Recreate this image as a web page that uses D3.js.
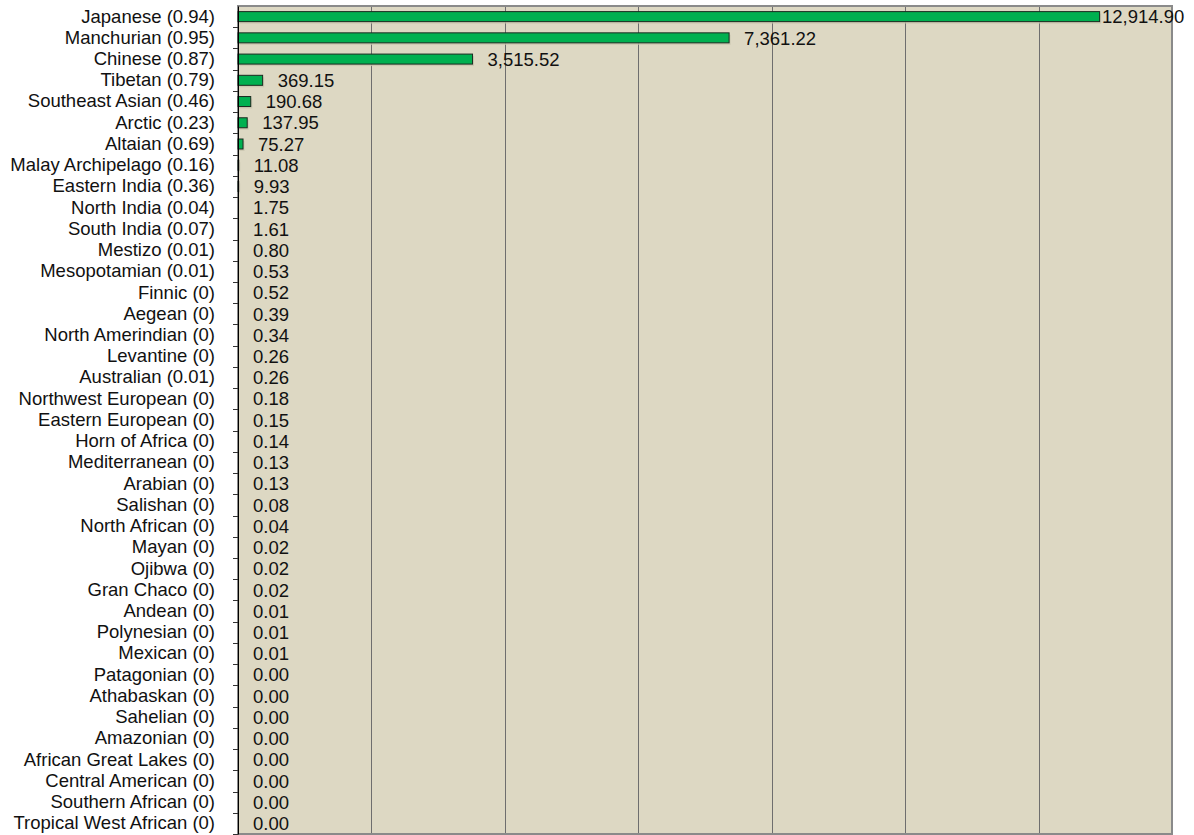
<!DOCTYPE html>
<html>
<head>
<meta charset="utf-8">
<script src="https://cdn.jsdelivr.net/npm/d3@7"></script>
<style>
  body { margin: 0; background: #fff; }
  text { font-family: "Liberation Sans", Arial, sans-serif; }
</style>
</head>
<body>
<div id="myChart"></div>
<script>
// categories (top to bottom) and their values
var categories = ["Japanese (0.94)", "Manchurian (0.95)", "Chinese (0.87)", "Tibetan (0.79)",
  "Southeast Asian (0.46)", "Arctic (0.23)", "Altaian (0.69)", "Malay Archipelago (0.16)",
  "Eastern India (0.36)", "North India (0.04)", "South India (0.07)", "Mestizo (0.01)",
  "Mesopotamian (0.01)", "Finnic (0)", "Aegean (0)", "North Amerindian (0)", "Levantine (0)",
  "Australian (0.01)", "Northwest European (0)", "Eastern European (0)", "Horn of Africa (0)",
  "Mediterranean (0)", "Arabian (0)", "Salishan (0)", "North African (0)", "Mayan (0)",
  "Ojibwa (0)", "Gran Chaco (0)", "Andean (0)", "Polynesian (0)", "Mexican (0)",
  "Patagonian (0)", "Athabaskan (0)", "Sahelian (0)", "Amazonian (0)", "African Great Lakes (0)",
  "Central American (0)", "Southern African (0)", "Tropical West African (0)"];
var values = [12914.90, 7361.22, 3515.52, 369.15, 190.68, 137.95, 75.27, 11.08, 9.93, 1.75,
  1.61, 0.80, 0.53, 0.52, 0.39, 0.34, 0.26, 0.26, 0.18, 0.15, 0.14, 0.13, 0.13, 0.08, 0.04,
  0.02, 0.02, 0.02, 0.01, 0.01, 0.01, 0.00, 0.00, 0.00, 0.00, 0.00, 0.00, 0.00, 0.00];
var xTicks = [0, 2000, 4000, 6000, 8000, 10000, 12000, 14000];

var data = categories.map(function (c, i) { return { name: c, value: values[i] }; });

var margin = { top: 6, right: 22, bottom: 1, left: 238 },
    width = 1194 - margin.left - margin.right,
    height = 835 - margin.top - margin.bottom;

var x = d3.scaleLinear().domain([0, 14000]).range([0, width]);
var y = d3.scaleBand().domain(categories).range([0, height]);

var svg = d3.select("#myChart")
    .append("svg")
    .attr("width", 1194)
    .attr("height", 835)
    .append("g")
    .attr("transform", "translate(" + margin.left + "," + margin.top + ")");

// plot background
svg.append("rect")
    .attr("width", width)
    .attr("height", height)
    .attr("fill", "#ddd8c3");

// vertical gridlines
svg.selectAll(".grid")
    .data(xTicks.slice(1, -1))
    .enter().append("line")
    .attr("x1", function (d) { return Math.round(x(d)) + 0.5; })
    .attr("x2", function (d) { return Math.round(x(d)) + 0.5; })
    .attr("y1", 0)
    .attr("y2", height)
    .attr("stroke", "#6e6e6e")
    .attr("stroke-width", 1);

// plot border
svg.append("rect")
    .attr("width", width)
    .attr("height", height)
    .attr("fill", "none")
    .attr("stroke", "#8a8a8a")
    .attr("stroke-width", 2);

var barH = 10;

// soft shadow under bars
svg.selectAll(".shadow")
    .data(data)
    .enter().append("rect")
    .attr("x", 1.5)
    .attr("y", function (d) { return y(d.name) + (y.bandwidth() - barH) / 2 + 2; })
    .attr("width", function (d) { return x(d.value); })
    .attr("height", barH)
    .attr("fill", "#c9c4ae")
    .attr("opacity", function (d) { return x(d.value) > 0.5 ? 0.8 : 0; });

// bars
svg.selectAll(".bar")
    .data(data)
    .enter().append("rect")
    .attr("x", 0)
    .attr("y", function (d) { return y(d.name) + (y.bandwidth() - barH) / 2; })
    .attr("width", function (d) { return x(d.value); })
    .attr("height", barH)
    .attr("fill", "#00b050")
    .attr("stroke", "#1a2a20")
    .attr("stroke-width", 1)
    .attr("stroke-opacity", function (d) { return x(d.value) > 0.5 ? 1 : 0; });

// value labels
svg.selectAll(".val")
    .data(data)
    .enter().append("text")
    .attr("x", function (d) { return Math.min(x(d.value) + 15, width - 70); })
    .attr("y", function (d) { return y(d.name) + y.bandwidth() / 2; })
    .attr("dy", "0.36em")
    .style("font-size", "18.5px")
    .attr("fill", "#111")
    .text(function (d) { return d3.format(",.2f")(d.value); });

// y axis
var yAxis = svg.append("g")
    .call(d3.axisLeft(y).tickSize(0).tickPadding(23));
yAxis.select(".domain").attr("stroke", "#000");
yAxis.selectAll("text")
    .style("font-size", "18.5px")
    .style("font-family", "'Liberation Sans', Arial, sans-serif")
    .attr("fill", "#111");

// small tick marks at band boundaries
svg.selectAll(".ytick")
    .data(categories.slice(1).concat(["__end"]))
    .enter().append("line")
    .attr("x1", -5)
    .attr("x2", 0)
    .attr("y1", function (d, i) { return Math.round(y.step() * (i + 1)) + 0.5; })
    .attr("y2", function (d, i) { return Math.round(y.step() * (i + 1)) + 0.5; })
    .attr("stroke", "#333");
</script>
</body>
</html>
